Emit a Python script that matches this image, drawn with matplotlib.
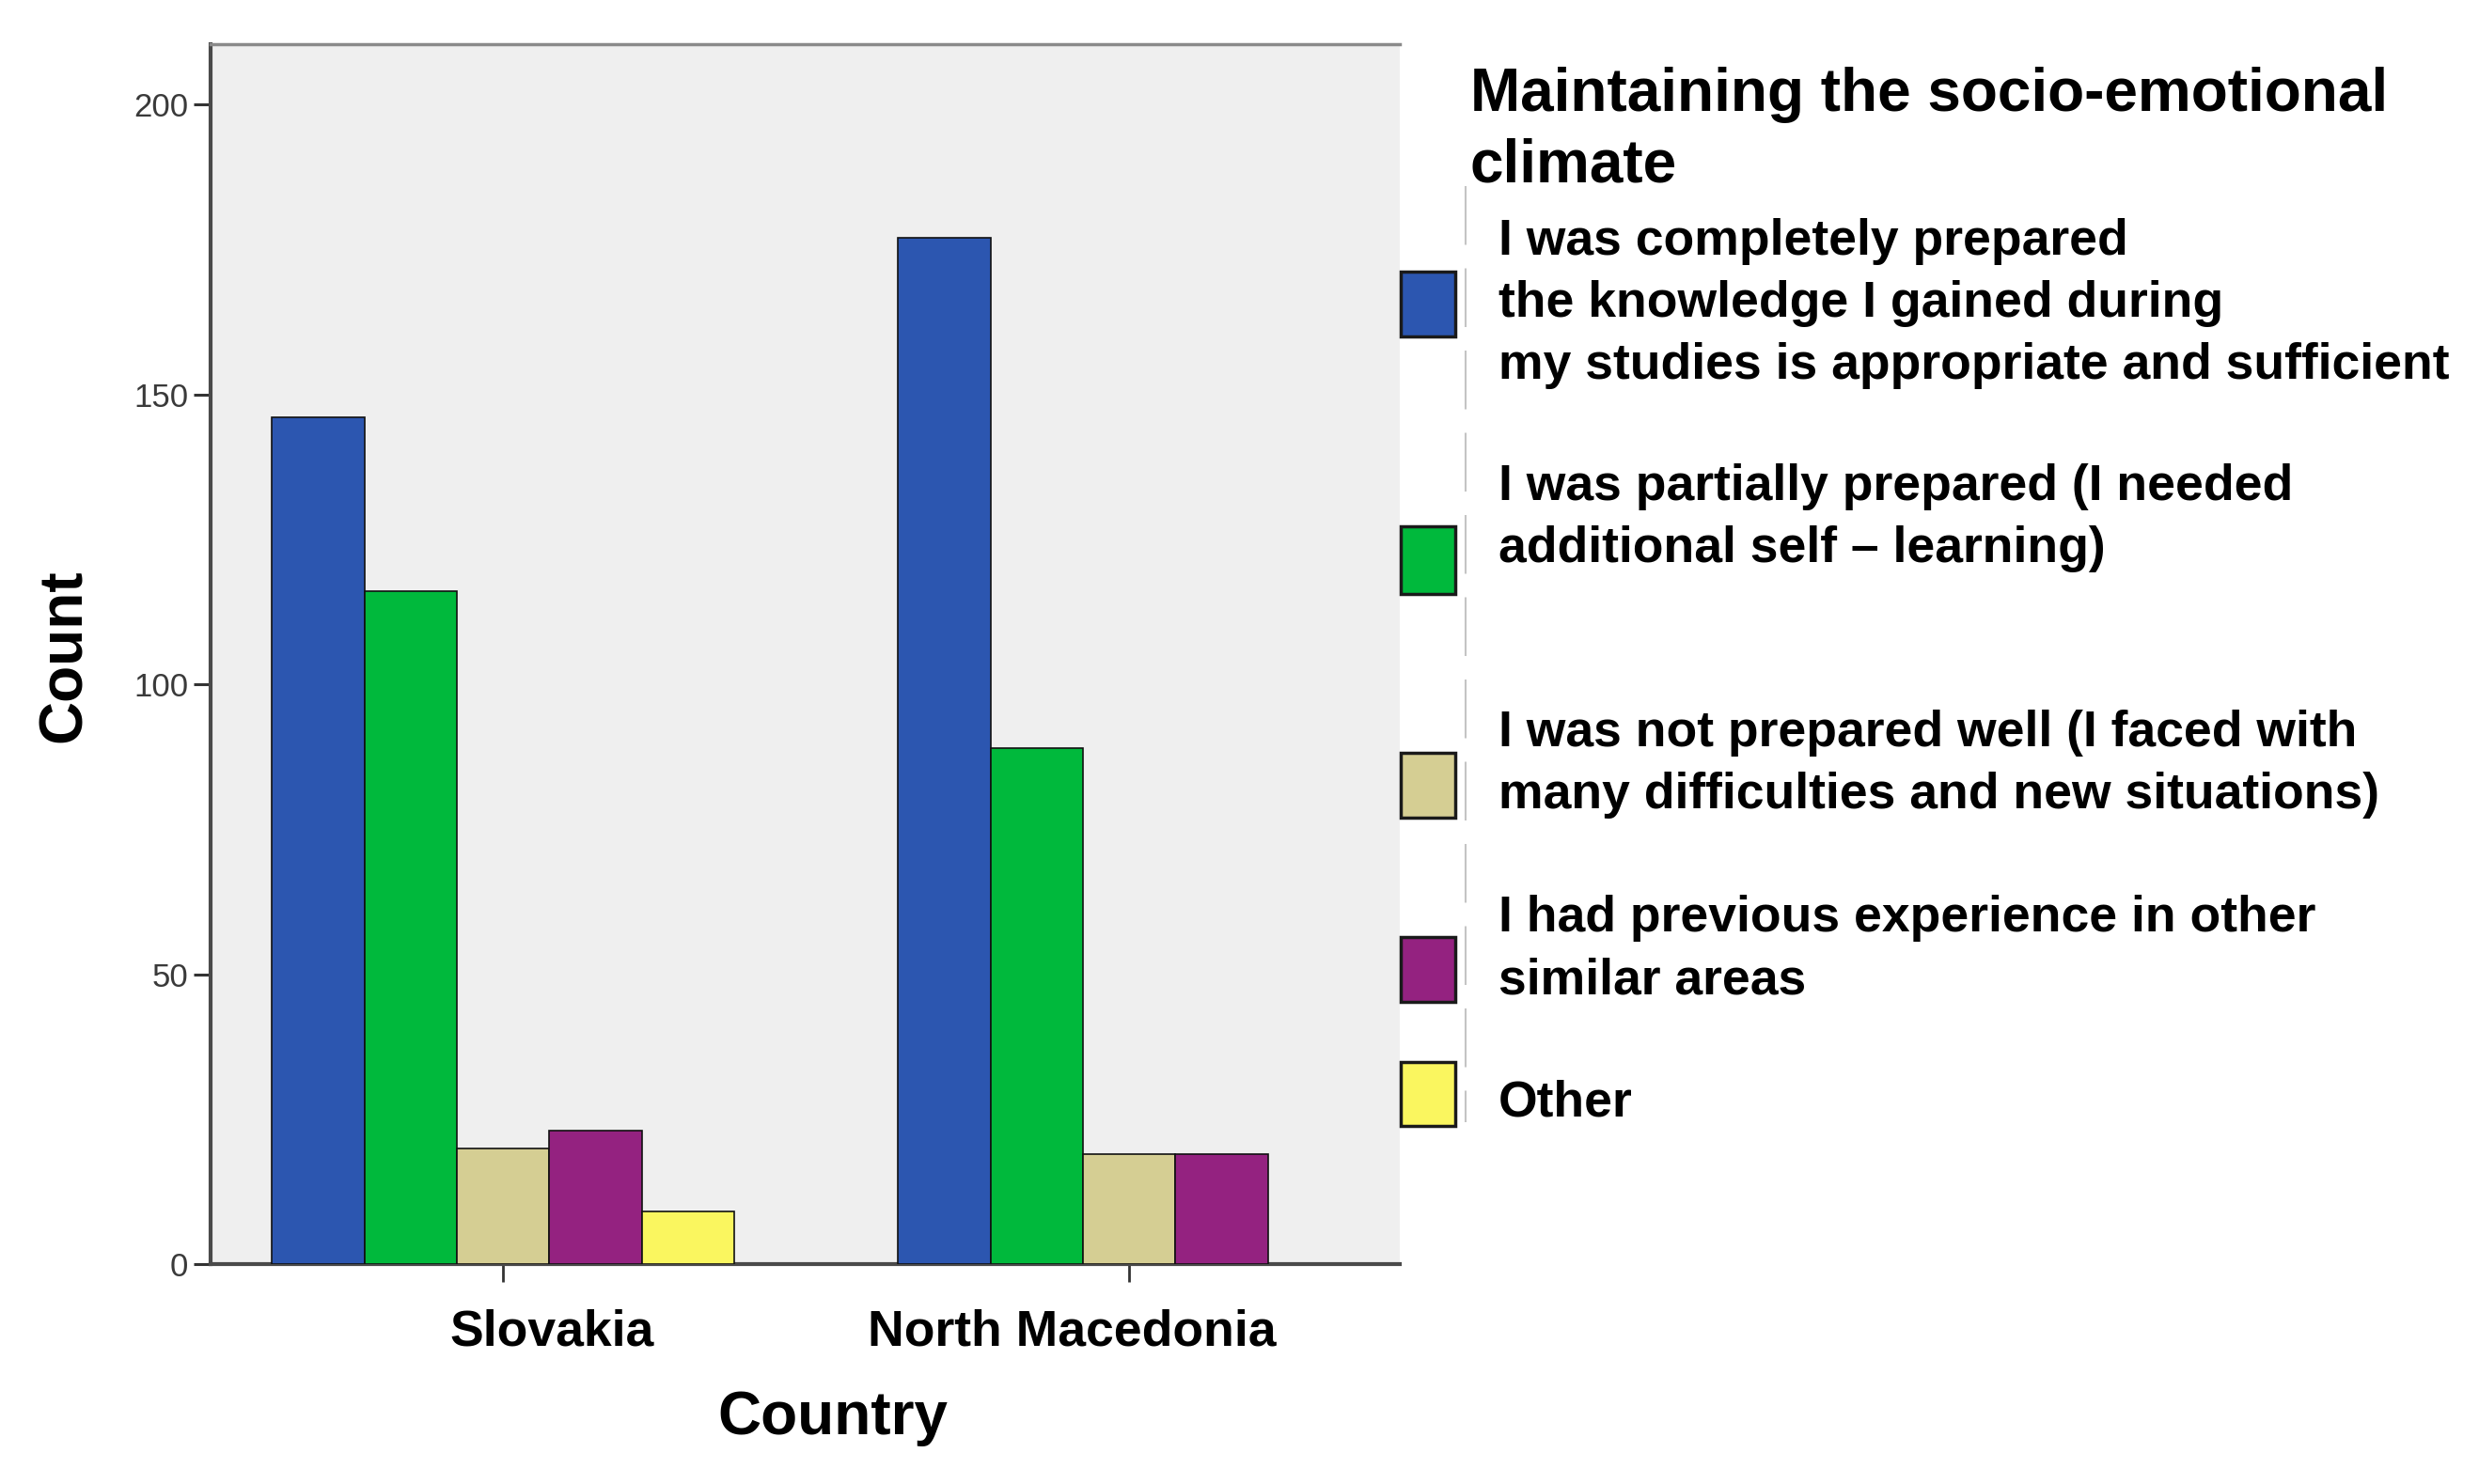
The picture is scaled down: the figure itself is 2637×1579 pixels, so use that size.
import matplotlib
matplotlib.use("Agg")
import matplotlib.pyplot as plt
from matplotlib.patches import Rectangle
from matplotlib.lines import Line2D
import numpy as np

# ---- data ----
countries = ["Slovakia", "North Macedonia"]
responses = [
    "I was completely prepared\nthe knowledge I gained during\nmy studies is appropriate and sufficient",
    "I was partially prepared (I needed\nadditional self \u2013 learning)",
    "I was not prepared well (I faced with\nmany difficulties and new situations)",
    "I had previous experience in other\nsimilar areas",
    "Other",
]
completely = [146, 177]
partially = [116, 89]
not_well = [20, 19]
previous = [23, 19]
other = [9, 0]
series = [completely, partially, not_well, previous, other]
colors = ["#2c56b0", "#00b93c", "#d5ce93", "#942280", "#faf65f"]
yticks = [0, 50, 100, 150, 200]
legend_title = "Maintaining the socio-emotional\nclimate"

W, H = 2637, 1579
plt.rcParams["font.family"] = ["Liberation Sans", "DejaVu Sans"]
fig = plt.figure(figsize=(W / 100, H / 100), dpi=100)
fig.patch.set_facecolor("white")

def fx(px):
    return px / W

def fy(py):
    return 1 - py / H

ax_left, ax_right, ax_top, ax_bot = 224, 1489, 47, 1345
ax = fig.add_axes([fx(ax_left), fy(ax_bot), fx(ax_right - ax_left), (ax_bot - ax_top) / H])
ax.set_facecolor("#efefef")

x = np.arange(len(countries))
w = 0.1477
for i, (vals, c) in enumerate(zip(series, colors)):
    edges = ["#111111" if v > 0 else "none" for v in vals]
    ax.bar(x + (i - 2) * w, vals, width=w, color=c, edgecolor=edges, linewidth=1.2, zorder=3)

ax.set_xlim(-0.467, 1.432)
ax.set_ylim(0, 210.4)
ax.set_yticks(yticks)
ax.set_yticklabels([str(t) for t in yticks], fontsize=25, color="#3a3a3a")
ax.set_xticks(x)
ax.set_xticklabels(["", ""])
ax.tick_params(axis="y", length=13, width=2.2, color="#333333", pad=4)
ax.tick_params(axis="x", length=14, width=2.0, color="#333333")

for s in ["left", "bottom"]:
    ax.spines[s].set_color("#4a4a4a")
    ax.spines[s].set_linewidth(3)
ax.spines["top"].set_color("#8a8a8a")
ax.spines["top"].set_linewidth(2.5)
ax.spines["right"].set_visible(False)

# category labels (offset as in the reference)
lab_x = [0.078, 0.908]
for xx, name in zip(lab_x, countries):
    ax.text(xx, -73 / (ax_bot - ax_top), name, transform=ax.get_xaxis_transform(),
            ha="center", va="center", fontsize=38.5, fontweight="bold", color="black")

fig.text(fx(886), fy(1509), "Country", ha="center", va="center", fontsize=46, fontweight="bold")
fig.text(fx(69), fy(698), "Count", ha="center", va="center", rotation=90, fontsize=46, fontweight="bold")

# legend (manual)
title_lines = legend_title.split("\n")
for line, yc in zip(title_lines, [96, 172]):
    fig.text(fx(1564), fy(yc + 22), line, ha="left", va="baseline", fontsize=46, fontweight="bold")

line_centers = [[252, 318, 383.5], [513, 578.6], [775, 841], [972, 1038], [1169]]
patch_y = [(289, 358), (560, 632), (801, 870), (997, 1066), (1130, 1198)]
for lab, centers, (y0, y1), c in zip(responses, line_centers, patch_y, colors):
    for line, yc in zip(lab.split("\n"), centers):
        fig.text(fx(1594), fy(yc + 19), line, ha="left", va="baseline", fontsize=38.5, fontweight="bold")
    fig.patches.append(Rectangle((fx(1490), fy(y1)), fx(58), (y1 - y0) / H, transform=fig.transFigure,
                                 facecolor=c, edgecolor="#1a1a1a", linewidth=2.5, zorder=5))

fig.lines.append(Line2D([fx(1559), fx(1559)], [fy(198), fy(1194)], transform=fig.transFigure,
                        color="#c4c4c4", linewidth=1.5, linestyle=(0, (30, 12))))

fig.savefig("out.png", dpi=100)
